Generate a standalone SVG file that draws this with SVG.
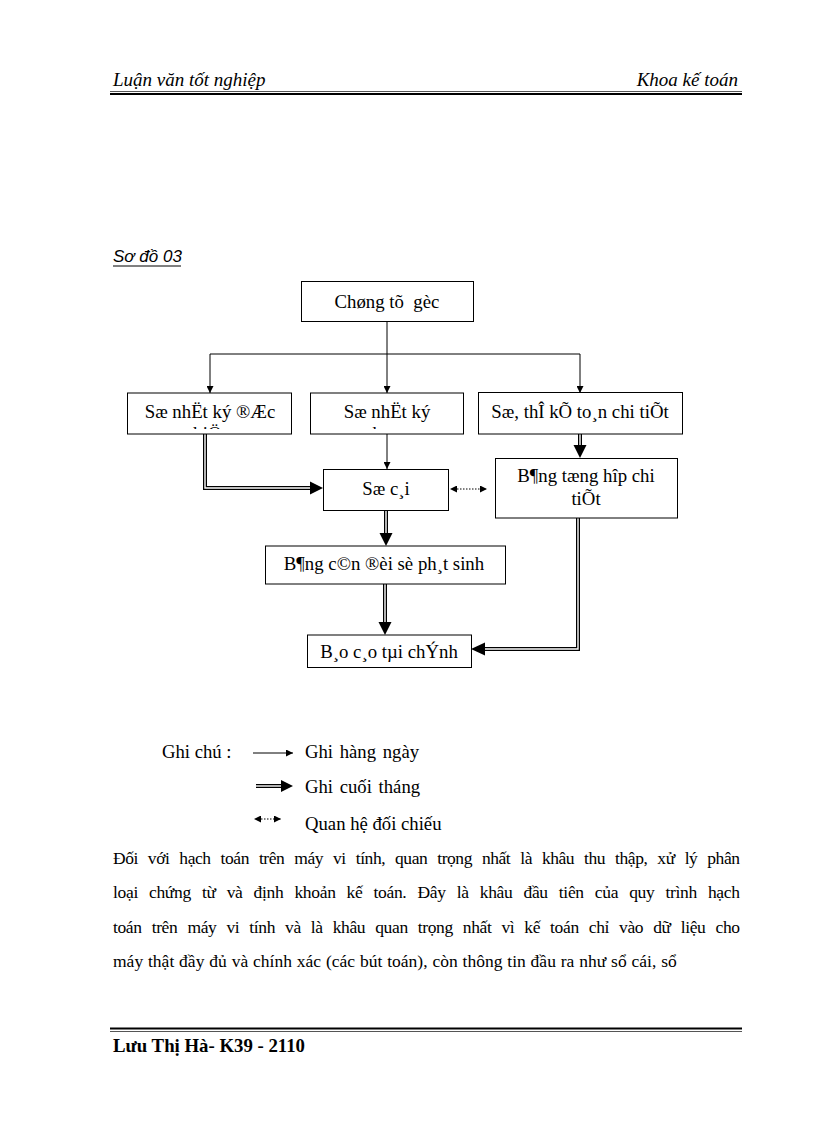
<svg xmlns="http://www.w3.org/2000/svg" width="816" height="1123" viewBox="0 0 816 1123">
<defs>
<style>
.t{font-family:"Liberation Serif","Times New Roman",serif;fill:#000}
.bx{font-size:18.8px;text-anchor:middle}
.box{fill:#fff;stroke:#000;stroke-width:1}
.thin{fill:none;stroke:#000;stroke-width:1}
.dot{fill:none;stroke:#000;stroke-width:1;stroke-dasharray:1.5 1.5}
.dblo{fill:none;stroke:#000;stroke-width:4;stroke-linejoin:miter}
.dbli{fill:none;stroke:#fff;stroke-width:1.4;stroke-linejoin:miter}
.hd{font-size:19px;font-style:italic}
.body{font-size:17.5px}
.lg{font-size:18.7px}
</style>
<marker id="ah" viewBox="0 0 10 10" refX="10" refY="5" markerWidth="9" markerHeight="7" markerUnits="userSpaceOnUse" orient="auto"><path d="M0,0L10,5L0,10z" fill="#000"/></marker>
<marker id="ahs" viewBox="0 0 10 10" refX="0" refY="5" markerWidth="8" markerHeight="7" markerUnits="userSpaceOnUse" orient="auto-start-reverse"><path d="M0,0L10,5L0,10z" fill="#000"/></marker>
<clipPath id="c2"><rect x="128" y="393" width="163" height="36"/></clipPath>
<clipPath id="c3"><rect x="311" y="393" width="153" height="36"/></clipPath>
</defs>
<rect width="816" height="1123" fill="#fff"/>

<g id="header">
<text class="t hd" x="113" y="86">Luận văn tốt nghiệp</text>
<text class="t hd" x="738" y="86" text-anchor="end">Khoa kế toán</text>
<line x1="110" y1="91.5" x2="742" y2="91.5" stroke="#555" stroke-width="1"/>
<line x1="110" y1="94" x2="742" y2="94" stroke="#000" stroke-width="2"/>
</g>

<g id="title">
<text x="113" y="262" font-family="Liberation Sans, Arial, sans-serif" font-size="17" font-style="italic" fill="#000">Sơ đồ 03</text>
<line x1="113" y1="266" x2="181" y2="266" stroke="#000" stroke-width="1"/>
</g>

<g id="connectors">
<line class="thin" x1="387" y1="321" x2="387" y2="354"/>
<line class="thin" x1="210" y1="354" x2="580" y2="354"/>
<line class="thin" x1="210" y1="354" x2="210" y2="393" marker-end="url(#ah)"/>
<line class="thin" x1="387" y1="354" x2="387" y2="393" marker-end="url(#ah)"/>
<line class="thin" x1="580" y1="354" x2="580" y2="393" marker-end="url(#ah)"/>
<line class="thin" x1="387" y1="434" x2="387" y2="469" marker-end="url(#ah)"/>
<line class="dot" x1="457" y1="489" x2="487" y2="489" marker-start="url(#ahs)" marker-end="url(#ah)"/>
<path class="dblo" d="M205,434V488H311"/>
<path class="dbli" d="M205,434V488H311"/>
<polygon points="310,481.5 323,488 310,494.5" fill="#000"/>
<path class="dblo" d="M580,434V446"/>
<path class="dbli" d="M580,434V446"/>
<polygon points="573.5,445 580,458 586.5,445" fill="#000"/>
<path class="dblo" d="M386,511V534"/>
<path class="dbli" d="M386,511V534"/>
<polygon points="379.5,533 386,546 392.5,533" fill="#000"/>
<path class="dblo" d="M385,584V623"/>
<path class="dbli" d="M385,584V623"/>
<polygon points="378.5,622 385,635 391.5,622" fill="#000"/>
<path class="dblo" d="M578,518V649H484"/>
<path class="dbli" d="M578,518V649H484"/>
<polygon points="485,642.5 471,649 485,655.5" fill="#000"/>
</g>

<g id="n-chungtugoc">
<rect class="box" x="301.5" y="281.5" width="172" height="40"/>
<text class="t bx" x="387" y="308" xml:space="preserve">Chøng tõ  gèc</text>
</g>
<g id="n-nkdacbiet">
<rect class="box" x="127.5" y="393" width="164" height="41"/>
<text class="t bx" x="210" y="418">Sæ nhËt ký ®Æc</text>
<text class="t bx" x="210" y="440" clip-path="url(#c2)">biÖt</text>
</g>
<g id="n-nkchung">
<rect class="box" x="310.5" y="393" width="153" height="41"/>
<text class="t bx" x="387" y="418">Sæ nhËt ký</text>
<text class="t bx" x="387" y="440" clip-path="url(#c3)">chung</text>
</g>
<g id="n-sothe">
<rect class="box" x="478.5" y="392.5" width="204" height="41.5"/>
<text class="t bx" x="580" y="418">Sæ, thÎ kÕ to¸n chi tiÕt</text>
</g>
<g id="n-bangthop">
<rect class="box" x="495.5" y="458.5" width="182" height="59.5"/>
<text class="t bx" x="586" y="482">B¶ng tæng hîp chi</text>
<text class="t bx" x="586" y="505">tiÕt</text>
</g>
<g id="n-socai">
<rect class="box" x="323.5" y="469.5" width="125" height="41"/>
<text class="t bx" x="386" y="495">Sæ c¸i</text>
</g>
<g id="n-bangcandoi">
<rect class="box" x="265.5" y="546" width="240" height="38"/>
<text class="t bx" x="384" y="570">B¶ng c©n ®èi sè ph¸t sinh</text>
</g>
<g id="n-baocao">
<rect class="box" x="307.5" y="635" width="164" height="32.5"/>
<text class="t bx" x="389" y="658">B¸o c¸o tµi chÝnh</text>
</g>

<g id="legend">
<text class="t lg" x="162" y="758">Ghi chú :</text>
<line class="thin" x1="253" y1="753" x2="293" y2="753" marker-end="url(#ah)"/>
<text class="t lg" x="305" y="758" word-spacing="2">Ghi hàng ngày</text>
<path class="dblo" d="M256,786H282"/>
<path class="dbli" d="M256,786H282"/>
<polygon points="281,780 293,786 281,792" fill="#000"/>
<text class="t lg" x="305" y="793" word-spacing="2">Ghi cuối tháng</text>
<line class="dot" x1="261" y1="819" x2="281" y2="819" marker-start="url(#ahs)" marker-end="url(#ah)"/>
<text class="t lg" x="305" y="830">Quan hệ đối chiếu</text>
</g>

<g id="paragraph">
<text class="t body" x="113" y="864" word-spacing="6" textLength="627" lengthAdjust="spacing">Đối với hạch toán trên máy vi tính, quan trọng nhất là khâu thu thập, xử lý phân</text>
<text class="t body" x="113" y="898" word-spacing="7" textLength="627" lengthAdjust="spacing">loại chứng từ và định khoản kế toán. Đây là khâu đầu tiên của quy trình hạch</text>
<text class="t body" x="113" y="933" word-spacing="6" textLength="627" lengthAdjust="spacing">toán trên máy vi tính và là khâu quan trọng nhất vì kế toán chỉ vào dữ liệu cho</text>
<text class="t body" x="113" y="967" word-spacing="0.5">máy thật đầy đủ và chính xác (các bút toán), còn thông tin đầu ra như sổ cái, sổ</text>
</g>

<g id="footer">
<line x1="110" y1="1028.5" x2="742" y2="1028.5" stroke="#000" stroke-width="2"/>
<line x1="110" y1="1031.5" x2="742" y2="1031.5" stroke="#555" stroke-width="1"/>
<text class="t" x="113" y="1052" font-size="18.8" font-weight="bold">Lưu Thị Hà- K39 - 2110</text>
</g>
</svg>
